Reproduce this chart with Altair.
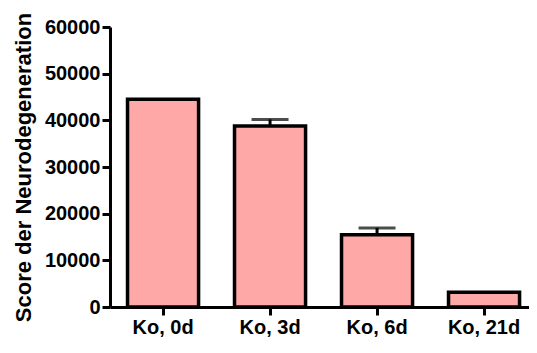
import altair as alt
import pandas as pd

categories = ["Ko, 0d", "Ko, 3d", "Ko, 6d", "Ko, 21d"]
means = [44500, 38800, 15500, 3150]
upper = [44500, 40200, 16950, 3150]
has_err = [False, True, True, False]

df = pd.DataFrame({"cat": categories, "mean": means, "upper": upper, "err": has_err})

FONT = "Liberation Sans"

xscale = alt.Scale(domain=categories, paddingInner=0.336, paddingOuter=0.126, align=0.65)
xaxis = alt.Axis(labelAngle=0, labelAlign="center", labelBaseline="top", labelFont=FONT,
                 labelFontSize=20, labelFontWeight="bold", labelColor="black", tickColor="black",
                 tickWidth=3, tickSize=8, domainColor="black", domainWidth=3, labelPadding=2,
                 grid=False)
x = alt.X("cat:N", sort=categories, title=None, scale=xscale, axis=xaxis)
yscale = alt.Scale(domain=[0, 60000], nice=False)
y = alt.Y("mean:Q", title="Score der Neurodegeneration", scale=yscale,
          axis=alt.Axis(values=[0, 10000, 20000, 30000, 40000, 50000, 60000], format="d",
                        labelFont=FONT, labelFontSize=20, labelFontWeight="bold", labelColor="black",
                        tickColor="black", tickWidth=3, tickSize=8, domainColor="black", domainWidth=3,
                        titleFont=FONT, titleFontSize=22, titleFontWeight="bold", titleColor="black",
                        titlePadding=9, labelPadding=2, grid=False))

errs = alt.Chart(df).transform_filter("datum.err").mark_rule(color="black", strokeWidth=3).encode(
    x=x, y=y, y2="upper:Q")
caps = alt.Chart(df).transform_filter("datum.err").mark_tick(
    color="black", thickness=3, size=37, orient="horizontal").encode(
    x=x, y=alt.Y("upper:Q", scale=yscale))
bars = alt.Chart(df).mark_bar(fill="#ffa8a8", stroke="black", strokeWidth=3.5).encode(x=x, y=y)

chart = alt.layer(errs, caps, bars).properties(
    width=419, height=280,
    autosize=alt.AutoSizeParams(type="none"),
    padding={"left": 102, "top": 19, "right": 0, "bottom": 34},
).configure_view(stroke=None)

chart.save("out.html", embed_options={"renderer": "svg", "actions": False})
